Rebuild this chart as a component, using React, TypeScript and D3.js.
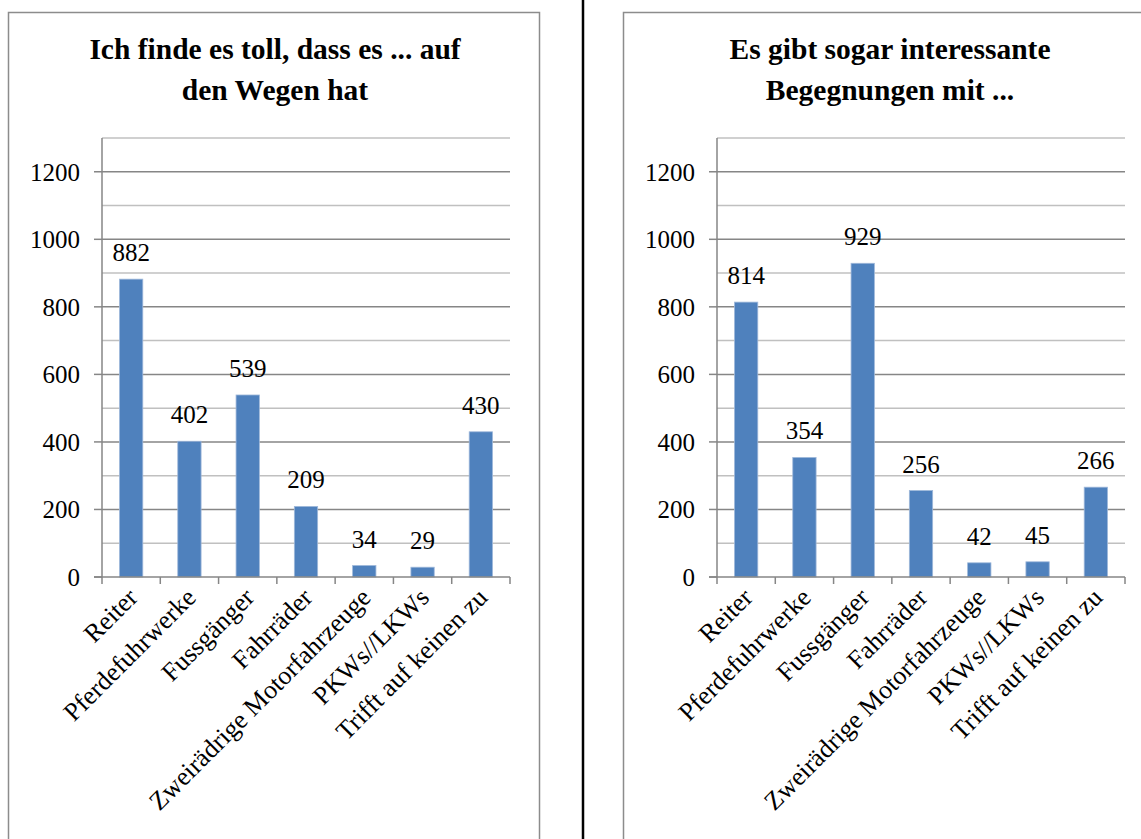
import * as d3 from 'd3';

const categories = [
  'Reiter',
  'Pferdefuhrwerke',
  'Fussgänger',
  'Fahrräder',
  'Zweirädrige Motorfahrzeuge',
  'PKWs//LKWs',
  'Trifft auf keinen zu',
];

const leftValues = [882, 402, 539, 209, 34, 29, 430];
const rightValues = [814, 354, 929, 256, 42, 45, 266];

const leftTitle = ['Ich finde es toll, dass es ... auf', 'den Wegen hat'];
const rightTitle = ['Es gibt sogar interessante', 'Begegnungen mit ...'];

const yTicks = [0, 200, 400, 600, 800, 1000, 1200];
const minorTicks = [100, 300, 500, 700, 900, 1100, 1300];

const FONT = '"Liberation Serif", "Times New Roman", serif';
const BAR = '#4f81bd';
const AXIS = '#868686';
const MINOR = '#c0c0c0';

const plot = { left: 102, right: 510, top: 138, bottom: 577 };

function Panel({ dx, title, values }: { dx: number; title: string[]; values: number[] }) {
  const x = d3
    .scaleBand<string>()
    .domain(categories)
    .range([plot.left, plot.right])
    .paddingInner(0.6)
    .paddingOuter(0.3);
  const y = d3.scaleLinear().domain([0, 1300]).range([plot.bottom, plot.top]);
  const slot = (plot.right - plot.left) / categories.length;
  const boundaries = d3.range(categories.length + 1).map((i) => plot.left + i * slot);
  const center = (i: number) => plot.left + (i + 0.5) * slot;
  const barW = x.bandwidth();

  return (
    <g transform={`translate(${dx},0)`}>
      <rect x={8.5} y={12.5} width={531} height={900} fill="#fff" stroke="#8c8c8c" strokeWidth={1.5} />
      <text textAnchor="middle" fontFamily={FONT} fontWeight="bold" fontSize={29.5} fill="#000">
        {title.map((t, i) => (
          <tspan key={i} x={275} y={59 + i * 41}>
            {t}
          </tspan>
        ))}
      </text>

      {minorTicks.map((v) => (
        <line key={'m' + v} x1={plot.left} x2={plot.right} y1={y(v)} y2={y(v)} stroke={MINOR} strokeWidth={1.5} />
      ))}
      {yTicks.slice(1).map((v) => (
        <line key={'g' + v} x1={plot.left} x2={plot.right} y1={y(v)} y2={y(v)} stroke={AXIS} strokeWidth={1.5} />
      ))}

      {values.map((v, i) => (
        <rect
          key={'b' + i}
          x={center(i) - barW / 2}
          y={y(v)}
          width={barW}
          height={y(0) - y(v)}
          fill={BAR}
          stroke="#9fb8da"
          strokeWidth={0.8}
        />
      ))}

      {/* y axis */}
      <line x1={plot.left} x2={plot.left} y1={plot.top} y2={plot.bottom} stroke={AXIS} strokeWidth={1.5} />
      {yTicks.map((v) => (
        <g key={'t' + v}>
          <line x1={plot.left - 8} x2={plot.left} y1={y(v)} y2={y(v)} stroke={AXIS} strokeWidth={1.5} />
          <text
            x={plot.left - 22}
            y={y(v)}
            dy="0.35em"
            textAnchor="end"
            fontFamily={FONT}
            fontSize={25}
            fill="#000"
          >
            {v}
          </text>
        </g>
      ))}

      {/* x axis */}
      <line x1={plot.left - 8} x2={plot.right} y1={plot.bottom} y2={plot.bottom} stroke={AXIS} strokeWidth={1.5} />
      {boundaries.map((bx, i) => (
        <line key={'xt' + i} x1={bx} x2={bx} y1={plot.bottom} y2={plot.bottom + 7} stroke={AXIS} strokeWidth={1.5} />
      ))}
      {categories.map((c, i) => (
        <text
          key={'c' + c}
          transform={`translate(${center(i) + 8},${plot.bottom + 22}) rotate(-45)`}
          textAnchor="end"
          fontFamily={FONT}
          fontSize={26}
          fill="#000"
        >
          {c}
        </text>
      ))}

      {/* value labels */}
      {values.map((v, i) => (
        <text
          key={'v' + i}
          x={center(i)}
          y={y(v) - 18}
          textAnchor="middle"
          fontFamily={FONT}
          fontSize={25}
          fill="#000"
        >
          {v}
        </text>
      ))}
    </g>
  );
}

export default function App() {
  return (
    <svg width={1141} height={839} style={{ position: 'absolute', left: 0, top: 0, background: '#fff' }}>
      <rect width={1141} height={839} fill="#fff" />
      <Panel dx={0} title={leftTitle} values={leftValues} />
      <Panel dx={615} title={rightTitle} values={rightValues} />
      <line x1={583} x2={583} y1={0} y2={839} stroke="#000" strokeWidth={2.5} />
    </svg>
  );
}
